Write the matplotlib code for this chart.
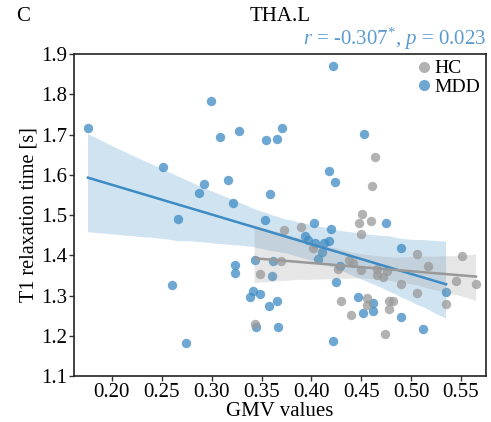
import numpy as np
import matplotlib
matplotlib.use("Agg")
import matplotlib.pyplot as plt
import seaborn as sns
from matplotlib.lines import Line2D
from matplotlib.collections import PolyCollection

# ---- data ----
mdd_gmv = [0.176, 0.251, 0.260, 0.266, 0.274, 0.287, 0.292, 0.299, 0.308, 0.316,
           0.321, 0.323, 0.323, 0.327, 0.338, 0.341, 0.343, 0.344, 0.348, 0.353,
           0.354, 0.357, 0.358, 0.360, 0.361, 0.365, 0.365, 0.367, 0.371, 0.394,
           0.397, 0.403, 0.404, 0.407, 0.411, 0.413, 0.418, 0.418, 0.420, 0.422,
           0.422, 0.424, 0.425, 0.429, 0.447, 0.452, 0.453, 0.462, 0.462, 0.475,
           0.490, 0.490, 0.512, 0.535]
mdd_t1 = [1.717, 1.620, 1.326, 1.489, 1.181, 1.555, 1.576, 1.784, 1.695, 1.586,
          1.529, 1.377, 1.355, 1.709, 1.297, 1.312, 1.389, 1.222, 1.303, 1.487,
          1.687, 1.274, 1.553, 1.349, 1.386, 1.690, 1.286, 1.221, 1.717, 1.448,
          1.438, 1.481, 1.430, 1.391, 1.407, 1.430, 1.435, 1.610, 1.464, 1.869,
          1.187, 1.581, 1.333, 1.373, 1.296, 1.257, 1.702, 1.282, 1.261, 1.480,
          1.419, 1.246, 1.218, 1.308]

hc_gmv = [0.343, 0.348, 0.370, 0.373, 0.390, 0.402, 0.427, 0.430, 0.438, 0.440,
          0.442, 0.448, 0.450, 0.450, 0.451, 0.456, 0.456, 0.460, 0.461, 0.464,
          0.466, 0.466, 0.472, 0.474, 0.476, 0.478, 0.482, 0.478, 0.490, 0.506,
          0.506, 0.517, 0.535, 0.545, 0.551, 0.565]
hc_t1 = [1.229, 1.353, 1.386, 1.462, 1.469, 1.417, 1.366, 1.286, 1.389, 1.251,
         1.380, 1.479, 1.453, 1.363, 1.502, 1.295, 1.276, 1.485, 1.573, 1.643,
         1.367, 1.351, 1.345, 1.204, 1.362, 1.287, 1.287, 1.267, 1.328, 1.403,
         1.305, 1.373, 1.278, 1.336, 1.399, 1.329]

groups = ["HC", "MDD"]
stat_text = r"$r$ = -0.307$^{*}$, $p$ = 0.023"
x_ticks = [0.20, 0.25, 0.30, 0.35, 0.40, 0.45, 0.50, 0.55]
y_ticks = [1.1, 1.2, 1.3, 1.4, 1.5, 1.6, 1.7, 1.8, 1.9]

# ---- style ----
plt.rcParams["font.family"] = ["Liberation Serif", "DejaVu Serif"]
plt.rcParams["mathtext.fontset"] = "custom"
plt.rcParams["mathtext.rm"] = "Liberation Serif"
plt.rcParams["mathtext.it"] = "Liberation Serif:italic"

blue = "#3d8bc4"
gray = "#999999"

fig = plt.figure(figsize=(4.91, 4.22), dpi=100)
ax = fig.add_axes([0.1507, 0.109, 0.8391, 0.763])

sns.regplot(x=np.array(mdd_gmv), y=np.array(mdd_t1), ax=ax, color=blue, seed=3,
            scatter_kws=dict(s=46, alpha=0.75, linewidths=0),
            line_kws=dict(lw=1.8))
sns.regplot(x=np.array(hc_gmv), y=np.array(hc_t1), ax=ax, color=gray, seed=5,
            scatter_kws=dict(s=46, alpha=0.75, linewidths=0),
            line_kws=dict(lw=1.8))

for c in ax.collections:
    if isinstance(c, PolyCollection):
        c.set_alpha(0.24)

ax.set_xlim(0.162, 0.575)
ax.set_ylim(1.1, 1.9)
ax.set_xticks(x_ticks)
ax.set_xticklabels([f"{v:.2f}" for v in x_ticks])
ax.set_yticks(y_ticks)
ax.set_yticklabels([f"{v:.1f}" for v in y_ticks])
ax.tick_params(axis="both", labelsize=15, length=3.5, width=1, color="#333333", pad=1.5)
for s in ax.spines.values():
    s.set_color("#222222")
    s.set_linewidth(1.2)

ax.set_xlabel("GMV values", fontsize=15, labelpad=0)
ax.set_ylabel("T1 relaxation time [s]", fontsize=14.5, labelpad=2)

ax.text(1.0, 1.006, stat_text, transform=ax.transAxes, ha="right", va="bottom",
        fontsize=15, color="#5b9bd0")
fig.text(0.57, 0.962, "THA.L", ha="center", va="center", fontsize=15)
fig.text(0.047, 0.962, "C", ha="center", va="center", fontsize=15)

handles = [Line2D([], [], marker="o", ls="", color=gray, alpha=0.75, markersize=8, markeredgewidth=0),
           Line2D([], [], marker="o", ls="", color=blue, alpha=0.75, markersize=8, markeredgewidth=0)]
ax.legend(handles, groups, loc="upper right", frameon=False, fontsize=14,
          handletextpad=0.05, labelspacing=0.05, borderaxespad=0.1,
          handlelength=1.0, borderpad=0.2)

fig.savefig("out.png", dpi=100)
